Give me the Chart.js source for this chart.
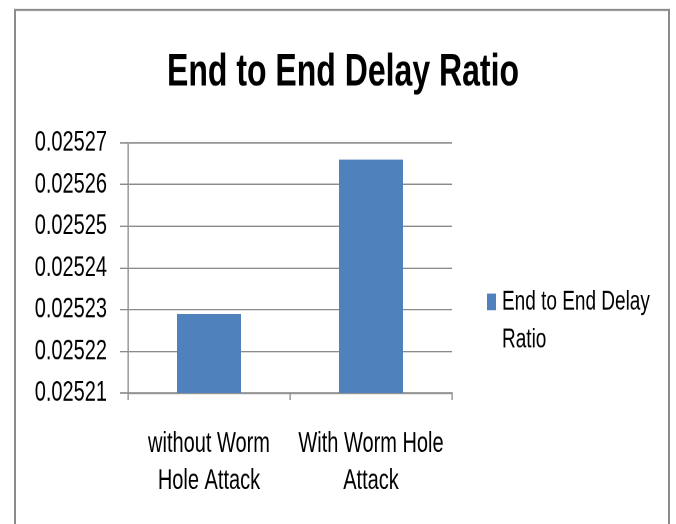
<!DOCTYPE html>
<html>
<head>
<meta charset="utf-8">
<script src="https://cdn.jsdelivr.net/npm/chart.js@4/dist/chart.umd.min.js"></script>
<style>
  html, body { margin: 0; padding: 0; background: #fff; width: 676px; height: 524px; overflow: hidden; }
  #frame { position: relative; width: 676px; height: 524px; overflow: hidden; }
  #wrap {
    position: absolute; left: 0; top: 0;
    width: 676px; height: 374px;
    transform: scaleY(1.401); transform-origin: 0 0;
  }
  canvas { display: block; }
</style>
</head>
<body>
<div id="frame"><div id="wrap"><canvas id="c" width="676" height="374"></canvas></div></div>
<script>
// Chart data
const categories = [['without Worm', 'Hole Attack'], ['With Worm Hole', 'Attack']];
const seriesName = 'End to End Delay Ratio';
const delayValues = [0.025229, 0.025266];
const yTicks = [0.02521, 0.02522, 0.02523, 0.02524, 0.02525, 0.02526, 0.02527];
const chartTitle = 'End to End Delay Ratio';

const FONT = "'Liberation Sans', Arial, sans-serif";
const BAR_BLUE = '#4F81BD';
const LINE_GREY = '#8a8a8a';

// Outer frame, title and right-hand legend
const decorations = {
  id: 'decorations',
  beforeDraw(chart) {
    const ctx = chart.ctx;
    ctx.save();
    ctx.fillStyle = '#ffffff';
    ctx.fillRect(0, 0, chart.width, chart.height);
    ctx.fillStyle = '#8c8c8c';
    ctx.fillRect(14, 6.4, 656, 1.45);   // top edge
    ctx.fillRect(14, 6.4, 2, 400);      // left edge
    ctx.fillRect(668, 6.4, 2, 400);     // right edge
    ctx.restore();
  },
  afterDraw(chart) {
    const ctx = chart.ctx;
    ctx.save();
    ctx.fillStyle = '#000';
    ctx.textAlign = 'center';
    ctx.textBaseline = 'middle';
    ctx.font = `bold 32px ${FONT}`;
    ctx.fillText(chartTitle, 343, 52);

    // legend
    const ds = chart.data.datasets[0];
    ctx.fillStyle = ds.backgroundColor;
    ctx.fillRect(487, 209.5, 9, 12);
    ctx.font = `19px ${FONT}`;
    ctx.textAlign = 'left';
    ctx.fillStyle = '#000';
    const words = ds.label.split(' ');
    const lines = [];
    let cur = '';
    for (const w of words) {
      const t = cur ? cur + ' ' + w : w;
      if (ctx.measureText(t).width > 150 && cur) { lines.push(cur); cur = w; }
      else cur = t;
    }
    if (cur) lines.push(cur);
    lines.forEach((l, i) => ctx.fillText(l, 502, 215.6 + i * 27));
    ctx.restore();
  }
};

new Chart(document.getElementById('c'), {
  type: 'bar',
  data: {
    labels: categories,
    datasets: [{
      label: seriesName,
      data: delayValues,
      backgroundColor: BAR_BLUE,
      borderWidth: 0,
      barPercentage: 0.395,
      categoryPercentage: 1.0
    }]
  },
  options: {
    responsive: false,
    animation: false,
    devicePixelRatio: 2,
    layout: { padding: { left: 0, top: 102, right: 224, bottom: 0 } },
    plugins: {
      legend: { display: false },
      title: { display: false },
      tooltip: { enabled: false }
    },
    scales: {
      x: {
        afterFit(scale) { scale.height = 93.5; },
        grid: {
          offset: true,
          drawOnChartArea: false,
          drawTicks: true,
          tickLength: 5,
          color: LINE_GREY,
          lineWidth: 1.3
        },
        border: { display: true, color: LINE_GREY, width: 1.2 },
        ticks: {
          color: '#000',
          padding: 18.3,
          maxRotation: 0,
          autoSkip: false,
          font: { family: FONT, size: 20, lineHeight: 1.32 }
        }
      },
      y: {
        min: yTicks[0],
        max: yTicks[yTicks.length - 1],
        afterFit(scale) { scale.width = 128; },
        afterBuildTicks(scale) { scale.ticks = yTicks.map(v => ({ value: v })); },
        grid: {
          drawTicks: true,
          tickLength: 8,
          color: LINE_GREY,
          lineWidth: 1
        },
        border: { display: true, color: LINE_GREY, width: 1.3 },
        ticks: {
          color: '#000',
          padding: 13,
          font: { family: FONT, size: 20 },
          callback: v => Number(v).toFixed(5)
        }
      }
    }
  },
  plugins: [decorations]
});
</script>
</body>
</html>
